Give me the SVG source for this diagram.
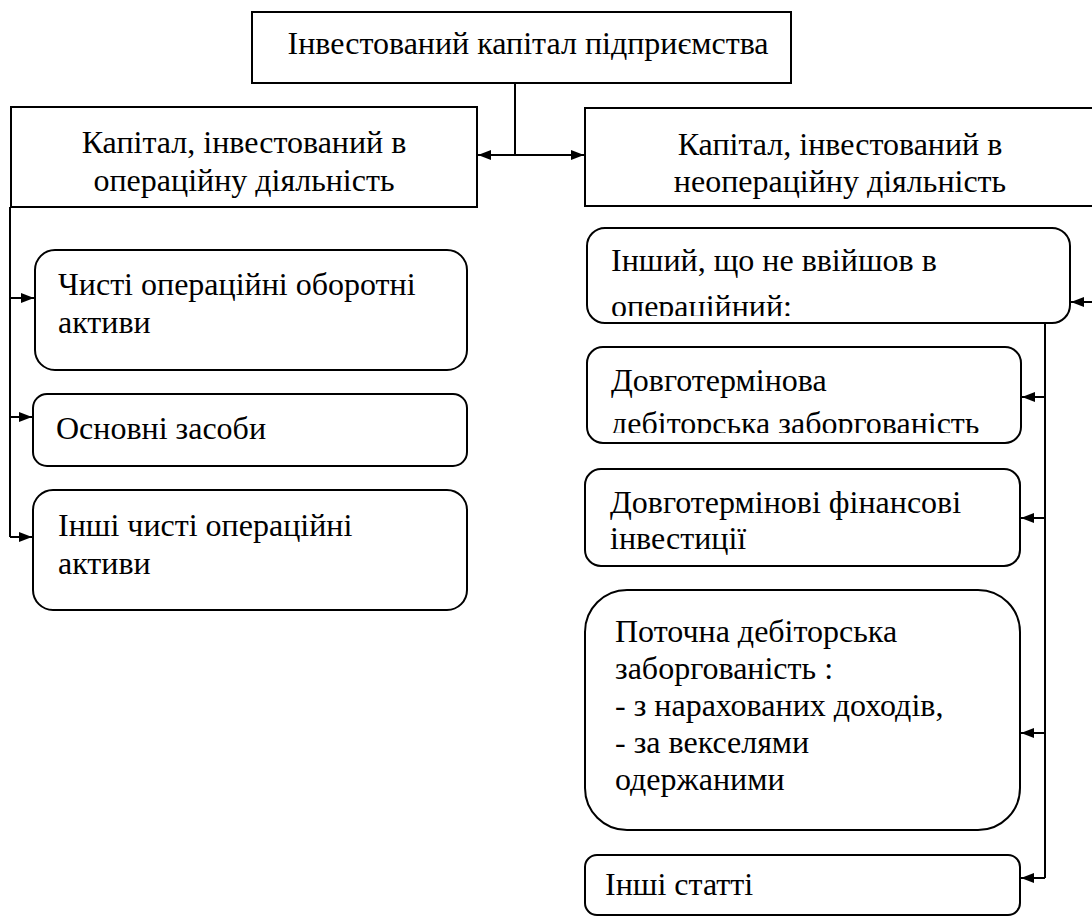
<svg xmlns="http://www.w3.org/2000/svg" width="1092" height="924" viewBox="0 0 1092 924">
<style>
.box{fill:#fff;stroke:#000;stroke-width:2}
.t{font-family:'Liberation Serif','Times New Roman',serif;font-size:32px;fill:#000}
.c{text-anchor:middle}
.ln{fill:none;stroke:#000;stroke-width:2}
</style>
<defs>
<marker id="ah" viewBox="0 0 13 10" refX="13" refY="5" markerWidth="13" markerHeight="10" markerUnits="userSpaceOnUse" orient="auto">
<path d="M0,0 L13,5 L0,10 Z" fill="#000"/>
</marker>
<clipPath id="clipA"><rect x="587" y="228" width="483" height="88"/></clipPath>
<clipPath id="clipB"><rect x="587" y="347" width="434" height="86"/></clipPath>
</defs>
<rect width="1092" height="924" fill="#fff"/>

<g id="connectors">
<path class="ln" d="M515,83 V155"/>
<path class="ln" d="M515,155 H478" marker-end="url(#ah)"/>
<path class="ln" d="M515,155 H584" marker-end="url(#ah)"/>
<path class="ln" d="M10,207 V537"/>
<path class="ln" d="M10,298 H34" marker-end="url(#ah)"/>
<path class="ln" d="M10,417 H32" marker-end="url(#ah)"/>
<path class="ln" d="M10,537 H32" marker-end="url(#ah)"/>
<path class="ln" d="M1092,302 H1071" marker-end="url(#ah)"/>
<path class="ln" d="M1045,323 V878"/>
<path class="ln" d="M1045,397 H1022" marker-end="url(#ah)"/>
<path class="ln" d="M1045,518 H1021" marker-end="url(#ah)"/>
<path class="ln" d="M1045,733 H1021" marker-end="url(#ah)"/>
<path class="ln" d="M1045,878 H1021" marker-end="url(#ah)"/>
</g>

<g id="root">
<rect class="box" x="252" y="12" width="539" height="71"/>
<text class="t c" x="528" y="54">Інвестований капітал підприємства</text>
</g>

<g id="operating">
<rect class="box" x="11" y="107" width="466" height="100"/>
<text class="t c" x="244" y="153">Капітал, інвестований в</text>
<text class="t c" x="244" y="191">операційну діяльність</text>
</g>

<g id="nonoperating">
<rect class="box" x="585" y="108" width="520" height="98"/>
<text class="t c" x="840" y="155">Капітал, інвестований в</text>
<text class="t c" x="840" y="192">неопераційну діяльність</text>
</g>

<g id="op1">
<rect class="box" x="35" y="250" width="432" height="120" rx="20"/>
<text class="t" x="58" y="295">Чисті операційні оборотні</text>
<text class="t" x="58" y="333">активи</text>
</g>

<g id="op2">
<rect class="box" x="33" y="394" width="434" height="72" rx="14"/>
<text class="t" x="56" y="439">Основні засоби</text>
</g>

<g id="op3">
<rect class="box" x="33" y="490" width="434" height="120" rx="20"/>
<text class="t" x="58" y="536">Інші чисті операційні</text>
<text class="t" x="58" y="574">активи</text>
</g>

<g id="non0">
<rect class="box" x="587" y="228" width="483" height="95" rx="18"/>
<g clip-path="url(#clipA)">
<text class="t" x="611" y="271">Інший, що не ввійшов в</text>
<text class="t" x="611" y="317">операційний:</text>
</g>
</g>

<g id="non1">
<rect class="box" x="587" y="347" width="434" height="96" rx="16"/>
<g clip-path="url(#clipB)">
<text class="t" x="611" y="391">Довготермінова</text>
<text class="t" x="611" y="434">дебіторська заборгованість</text>
</g>
</g>

<g id="non2">
<rect class="box" x="585" y="469" width="435" height="97" rx="16"/>
<text class="t" x="610" y="513">Довготермінові фінансові</text>
<text class="t" x="610" y="549">інвестиції</text>
</g>

<g id="non3">
<rect class="box" x="585" y="590" width="435" height="240" rx="42"/>
<text class="t" x="615" y="642">Поточна дебіторська</text>
<text class="t" x="615" y="679">заборгованість :</text>
<text class="t" x="615" y="716">- з нарахованих доходів,</text>
<text class="t" x="615" y="753">- за векселями</text>
<text class="t" x="615" y="790">одержаними</text>
</g>

<g id="non4">
<rect class="box" x="585" y="855" width="435" height="60" rx="12"/>
<text class="t" x="605" y="895">Інші статті</text>
</g>
</svg>
